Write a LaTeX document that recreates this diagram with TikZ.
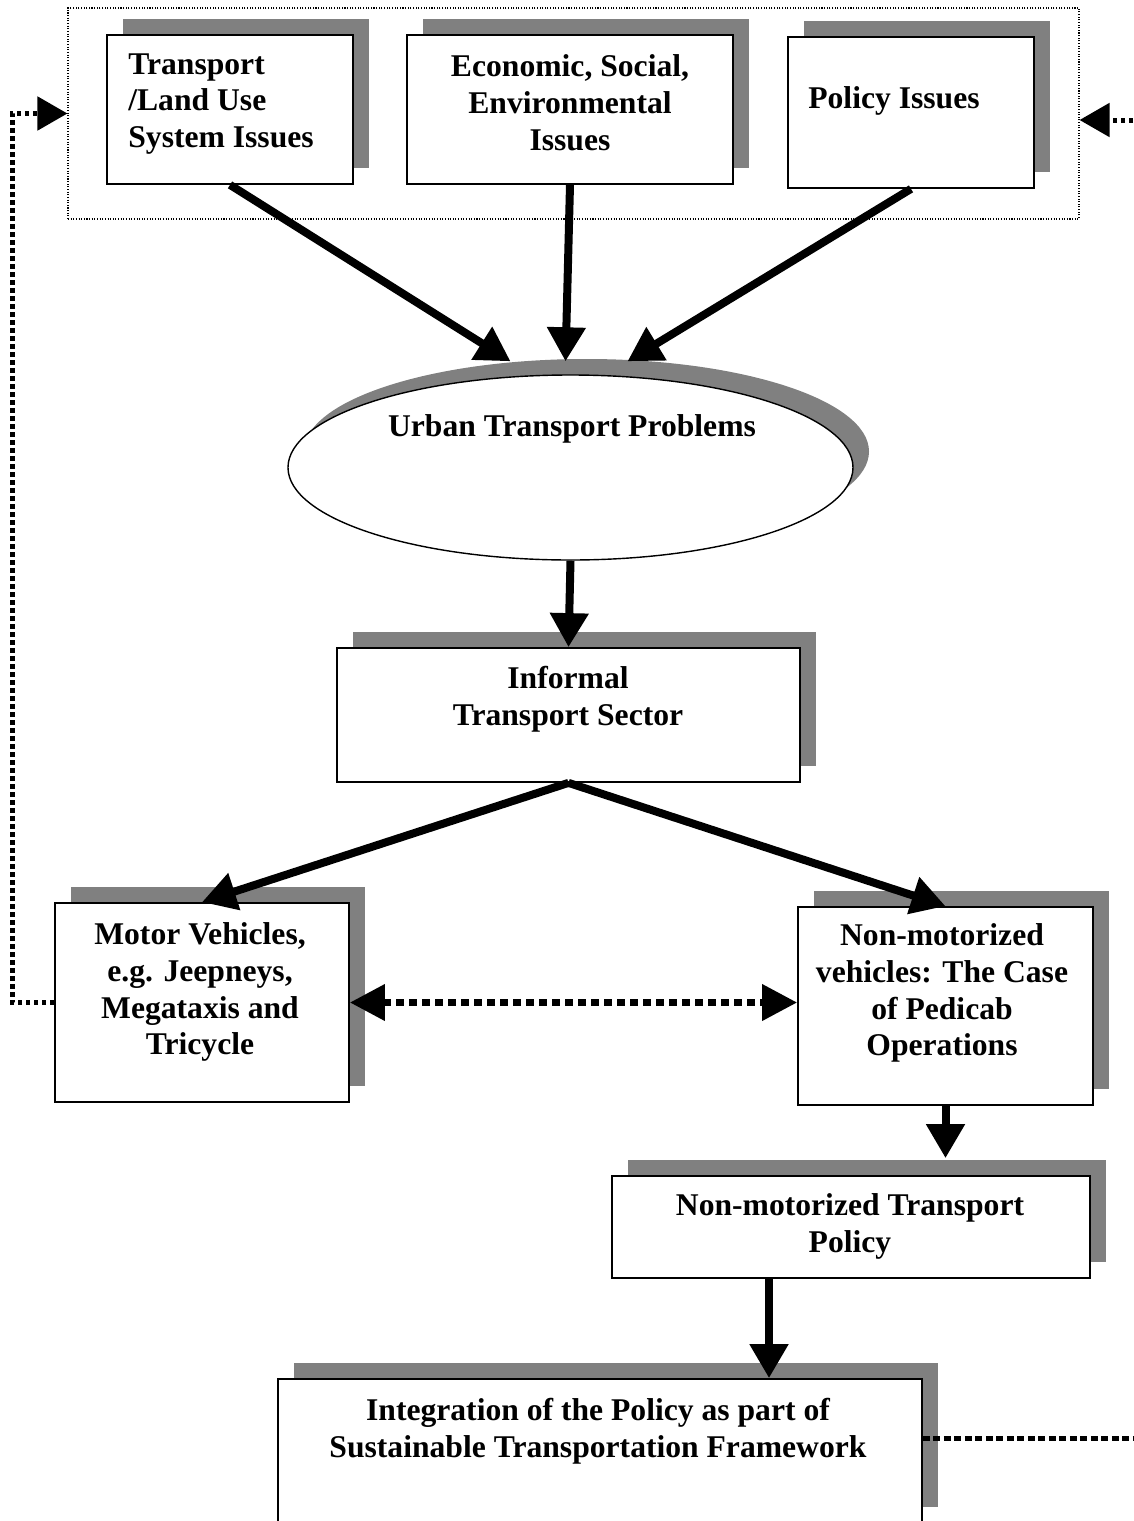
\documentclass[tikz,border=0pt]{standalone}
\usepackage{fontspec}
\setmainfont{Liberation Serif}
\usepackage{tikz}
\usetikzlibrary{shapes,calc,shadows,arrows.meta}
\definecolor{shadowgray}{RGB}{128,128,128}
\tikzset{
  boxsize/.style 2 args={minimum width=#1*0.02cm, minimum height=#2*0.02cm},
  sbox/.style={draw, line width=1pt, fill=white, inner sep=0pt,
    drop shadow={shadow xshift=0.32cm, shadow yshift=0.32cm, fill=shadowgray, opacity=1}},
  lbl/.style={font=\bfseries\fontsize{18}{21}\selectfont, align=center, inner sep=0pt},
  flow/.style={line width=0.16cm, -{Triangle[length=0.68cm,width=0.74cm]}},
  fback/.style={line width=0.1cm, dash pattern=on 0.09cm off 0.07cm, -{Triangle[length=0.6cm,width=0.66cm]}},
  link/.style={line width=0.14cm, dash pattern=on 0.16cm off 0.1cm,
    {Triangle[length=0.7cm,width=0.7cm]}-{Triangle[length=0.7cm,width=0.7cm]}}
}

\begin{document}
\begin{tikzpicture}[x=0.02cm,y=-0.02cm]
 \useasboundingbox (0,0) rectangle (1133,1521);
    % issue group and its boxes
    \node[draw, line width=0.6pt, dash pattern=on 0.6pt off 0.9pt, boxsize={1011}{211}] (issues) at (573.5,113.5) {};
    \node[sbox, boxsize={246}{149}] (landuse) at (230,109.5) {};
    \node[sbox, boxsize={326}{149}] (econ) at (570,109.5) {};
    \node[sbox, boxsize={246}{151}] (policy) at (911,112.5) {};
    % problem and sector
    \node[sbox, ellipse, line width=0.8pt, boxsize={565}{185}] (urban) at (570.5,467.5) {};
    \node[sbox, boxsize={463}{134}] (informal) at (568.5,715) {};
    \node[sbox, boxsize={294}{199}] (motor) at (202,1002.5) {};
    \node[sbox, boxsize={295}{198}] (nmv) at (945.5,1006) {};
    \node[sbox, boxsize={478}{102}] (nmtp) at (851,1227) {};
    \node[sbox, boxsize={644}{144}] (integ) at (600,1451) {};
    % texts
    \node[lbl, align=left, anchor=west] (landuse-t) at (128,104) {Transport\\/Land Use\\System Issues};
    \node[lbl] (econ-t) at (570,103) {Economic, Social,\\Environmental\\Issues};
    \node[lbl, anchor=west] (policy-t) at (808,101) {Policy Issues};
    \node[lbl] (urban-t) at (572,429) {Urban Transport Problems};
    \node[lbl] (informal-t) at (568,699) {Informal\\Transport Sector};
    \node[lbl] (motor-t) at (200,992) {Motor Vehicles,\\e.g. Jeepneys,\\Megataxis and\\Tricycle};
    \node[lbl] (nmv-t) at (942,993) {Non-motorized\\vehicles: The Case\\of Pedicab\\Operations};
    \node[lbl] (nmtp-t) at (850,1226) {Non-motorized Transport\\Policy};
    \node[lbl] (integ-t) at (598,1431) {Integration of the Policy as part of\\Sustainable Transportation Framework};
    % main flow
    \foreach \src/\dx in {landuse/-60, econ/-5, policy/57}
      \draw[flow] (\src.south) -- ($(urban.north)+(\dx,-13)$);
    \draw[flow] (urban.south) -- (informal.north);
    \draw[flow] (informal.south) -- (motor.north);
    \draw[flow] (informal.south) -- (nmv.north);
    \draw[flow] (nmv.south) -- ($(nmv.south |- nmtp.north)+(0,-17)$);
    \coordinate (np) at ($(nmtp.south)+(-82,0)$);
    \draw[flow] (np) -- (np |- integ.north);
    % feedback links
    \draw[link] (motor.east) -- (motor.east -| nmv.west);
    \draw[fback] (motor.west) -- ++(-42,0) |- (issues.west);
    \coordinate (outtop) at (1133,120);
    \coordinate (outlow) at (1133,1438);
    \draw[fback] (outtop) -- (outtop -| issues.east);
    \draw[fback, -, dash pattern=on 0.14cm off 0.07cm] (integ.east |- outlow) -- (outlow);
  \end{tikzpicture}
\end{document}
